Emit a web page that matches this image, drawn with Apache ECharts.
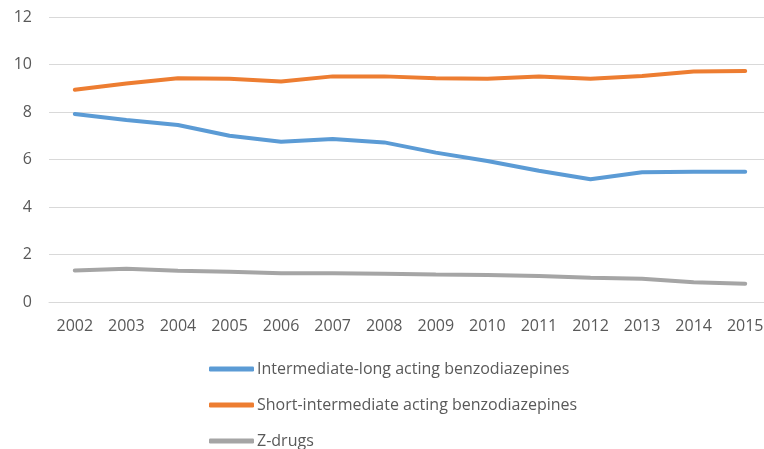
<!DOCTYPE html>
<html>
<head>
<meta charset="utf-8">
<script src="https://cdn.jsdelivr.net/npm/echarts@6/dist/echarts.min.js"></script>
<style>
  html, body { margin: 0; padding: 0; background: #fff; }
  #chart { width: 764px; height: 449px; }
</style>
</head>
<body>
<div id="chart"></div>
<script>
const years = ["2002", "2003", "2004", "2005", "2006", "2007", "2008", "2009", "2010", "2011", "2012", "2013", "2014", "2015"];
const longActing = [7.92, 7.66, 7.45, 7.0, 6.75, 6.86, 6.72, 6.29, 5.94, 5.53, 5.17, 5.46, 5.48, 5.48];
const shortActing = [8.94, 9.2, 9.42, 9.4, 9.28, 9.5, 9.5, 9.42, 9.4, 9.49, 9.4, 9.52, 9.71, 9.73];
const zDrugs = [1.33, 1.4, 1.32, 1.27, 1.21, 1.21, 1.19, 1.16, 1.14, 1.09, 1.02, 0.98, 0.83, 0.77];
const yTicks = [0, 2, 4, 6, 8, 10, 12];

const font = "'Open Sans', 'Liberation Sans', sans-serif";

function lineSeries(name, data, color) {
  return {
    name: name,
    type: "line",
    data: data,
    symbol: "none",
    lineStyle: { color: color, width: 4, cap: "round" },
    itemStyle: { color: color }
  };
}

let myChart = echarts.init(document.getElementById("chart"));
myChart.setOption({
  animation: false,
  grid: { left: 49, right: -7, top: 17, bottom: 147, outerBoundsMode: "none" },
  legend: {
    orient: "vertical",
    left: 204,
    top: 356,
    height: 140,
    itemWidth: 45,
    itemHeight: 5,
    itemGap: 20,
    icon: "roundRect",
    textStyle: { fontFamily: font, fontSize: 16, color: "#595959", padding: [0, 0, 0, -2] },
    data: ["Intermediate-long acting benzodiazepines", "Short-intermediate acting benzodiazepines", "Z-drugs"]
  },
  xAxis: {
    type: "category",
    data: years,
    boundaryGap: true,
    axisLine: { lineStyle: { color: "#d9d9d9", width: 1 } },
    axisTick: { show: false },
    axisLabel: { fontFamily: font, fontSize: 16, color: "#595959", margin: 16, interval: 0 }
  },
  yAxis: {
    type: "value",
    min: yTicks[0],
    max: yTicks[yTicks.length - 1],
    interval: 2,
    axisLine: { show: false },
    axisTick: { show: false },
    splitLine: { lineStyle: { color: "#d9d9d9", width: 1 } },
    axisLabel: { fontFamily: font, fontSize: 16, color: "#595959", margin: 17 }
  },
  series: [
    lineSeries("Intermediate-long acting benzodiazepines", longActing, "#5b9bd5"),
    lineSeries("Short-intermediate acting benzodiazepines", shortActing, "#ed7d31"),
    lineSeries("Z-drugs", zDrugs, "#a5a5a5")
  ]
});
</script>
</body>
</html>
